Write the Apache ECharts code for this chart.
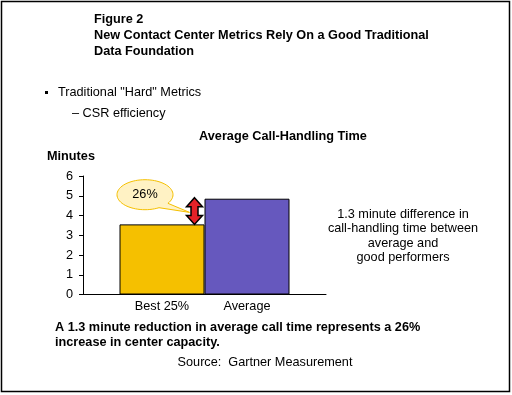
<!DOCTYPE html>
<html><head><meta charset="utf-8">
<script src="https://cdn.jsdelivr.net/npm/echarts@6/dist/echarts.min.js"></script>
<style>html,body{margin:0;padding:0;background:#fff}#c{width:512px;height:395px}</style>
</head><body><div id="c"></div>
<script>
const categories = ['Average Call-Handling Time'];
const seriesNames = ['Best 25%', 'Average'];
const bestValues = [3.55];
const averageValues = [4.85];
const yTicks = [0, 1, 2, 3, 4, 5, 6];
const titleLines = ['Figure 2', 'New Contact Center Metrics Rely On a Good Traditional', 'Data Foundation'];
const noteLines = ['1.3 minute difference in', 'call-handling time between', 'average and', 'good performers'];
const bottomLines = ['A 1.3 minute reduction in average call time represents a 26%', 'increase in center capacity.'];
const calloutText = '26%';

(function () {
const FONT = '"Liberation Sans", Arial, sans-serif';
const FS = 12.7;
const chart = echarts.init(document.getElementById('c'), null, {renderer: 'canvas'});

function txt(x, y, s, opts) {
  return {type: 'text', x: x, y: y, style: Object.assign({text: s, fill: '#000', font: FS + 'px ' + FONT, textVerticalAlign: 'middle'}, opts || {})};
}
const BOLD = 'bold ' + FS + 'px ' + FONT;

const option = {
  backgroundColor: '#fff',
  animation: false,
  grid: {left: 83, right: 186, top: 176, bottom: 100.5},
  xAxis: {
    type: 'category', data: categories,
    axisLine: {lineStyle: {color: '#000', width: 1}},
    axisTick: {show: false}, axisLabel: {show: false}, splitLine: {show: false}
  },
  yAxis: {
    type: 'value', min: yTicks[0], max: yTicks[yTicks.length - 1], interval: 1,
    axisLine: {show: true, lineStyle: {color: '#000', width: 1}},
    axisTick: {show: true, length: 4, lineStyle: {color: '#000'}},
    axisLabel: {color: '#000', fontSize: FS, fontFamily: FONT, margin: 10},
    splitLine: {show: false}
  },
  series: [
    {name: seriesNames[0], type: 'bar', data: bestValues, barWidth: 85, barGap: '0%',
     itemStyle: {color: '#F5C000', borderColor: '#000', borderWidth: 1},
     label: {show: true, position: 'bottom', distance: 5, formatter: '{a}', color: '#000', fontSize: FS, fontFamily: FONT}},
    {name: seriesNames[1], type: 'bar', data: averageValues, barWidth: 85, barGap: '0%',
     itemStyle: {color: '#6658BE', borderColor: '#000', borderWidth: 1},
     label: {show: true, position: 'bottom', distance: 5, formatter: '{a}', color: '#000', fontSize: FS, fontFamily: FONT}}
  ]
};
chart.setOption(option);

const xc = chart.convertToPixel({xAxisIndex: 0}, 0);
const yBest = chart.convertToPixel({yAxisIndex: 0}, bestValues[0]);
const yAvg = chart.convertToPixel({yAxisIndex: 0}, averageValues[0]);

const ax = xc - 10, aTop = yAvg - 1, aBot = yBest;
const arrowPts = [[ax, aTop], [ax + 8, aTop + 9], [ax + 3.5, aTop + 9], [ax + 3.5, aBot - 9], [ax + 8, aBot - 9], [ax, aBot],
  [ax - 8, aBot - 9], [ax - 3.5, aBot - 9], [ax - 3.5, aTop + 9], [ax - 8, aTop + 9]];
const cx = ax - 49.5, cy = yAvg - 4, rx = 28, ry = 15;
const tip = [ax - 5, yBest - 12];
const calloutPts = [];
for (let a = 60; a <= 395; a += 5) {
  const r = a * Math.PI / 180;
  calloutPts.push([cx + rx * Math.cos(r), cy + ry * Math.sin(r)]);
}
calloutPts.push(tip);

const g = [
  {type: 'rect', shape: {x: 1.5, y: 1.5, width: 508, height: 390}, style: {fill: 'none', stroke: '#000', lineWidth: 1.5}, silent: true},
  txt(94, 19, titleLines[0], {font: BOLD}),
  txt(94, 35, titleLines[1], {font: BOLD}),
  txt(94, 51, titleLines[2], {font: BOLD}),
  {type: 'rect', shape: {x: 45, y: 91, width: 3, height: 3}, style: {fill: '#000'}},
  txt(58, 92, 'Traditional "Hard" Metrics'),
  txt(72, 113, '\u2013 CSR efficiency'),
  txt(283, 136, 'Average Call-Handling Time', {font: BOLD, textAlign: 'center'}),
  txt(47, 156, 'Minutes', {font: BOLD}),
  txt(403, 214, noteLines[0], {textAlign: 'center'}),
  txt(403, 228.5, noteLines[1], {textAlign: 'center'}),
  txt(403, 243, noteLines[2], {textAlign: 'center'}),
  txt(403, 257.5, noteLines[3], {textAlign: 'center'}),
  txt(55, 327, bottomLines[0], {font: BOLD}),
  txt(55, 342, bottomLines[1], {font: BOLD}),
  txt(265, 362, 'Source:  Gartner Measurement', {textAlign: 'center'}),
  {type: 'polygon', shape: {points: calloutPts}, style: {fill: '#FFF2C4', stroke: '#F5C000', lineWidth: 1}, z: 100},
  Object.assign(txt(cx, cy, calloutText, {textAlign: 'center'}), {z: 101}),
  {type: 'polygon', shape: {points: arrowPts}, style: {fill: '#E42228', stroke: '#000', lineWidth: 1.5}, z: 100}
];
chart.setOption({graphic: {elements: g}});
})();
</script></body></html>
